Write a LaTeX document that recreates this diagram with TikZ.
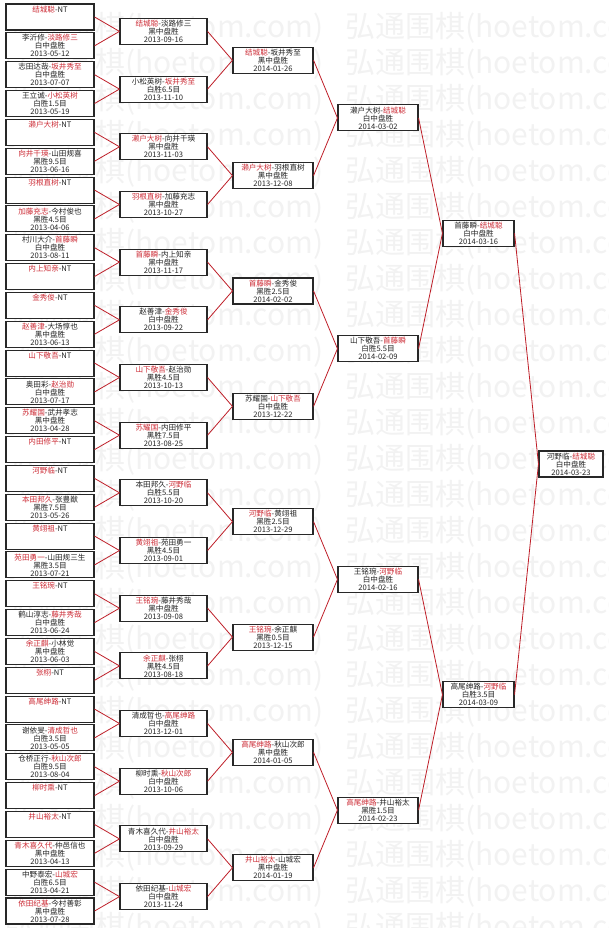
\documentclass[tikz,border=0pt]{standalone}
\usepackage{fontspec}
\usepackage{tikz}
\newfontfamily\cjk{Noto Sans CJK SC}
\definecolor{wincol}{RGB}{205,45,55}
\definecolor{linecol}{RGB}{190,30,40}
\definecolor{boxcol}{RGB}{40,40,40}
\definecolor{txtcol}{RGB}{35,35,35}
\newcommand\win[1]{\textcolor{wincol}{#1}}

\begin{document}
\begin{tikzpicture}[x=1pt, y=1pt,
    grow=left,
    game/.style={draw=boxcol, line width=1.1pt, fill=white, align=center,
      inner sep=1pt, minimum height=26pt, text=txtcol,
      font=\cjk\fontsize{7.6}{8}\selectfont},
    wmtext/.style={text=black!5, anchor=west, inner sep=0pt,
      font=\cjk\fontsize{30}{30}\selectfont},
    every child node/.style={game},
    edge from parent/.style={draw=linecol, line width=0.8pt},
    edge from parent path={(\tikzparentnode.west) -- (\tikzchildnode.east)},
    level 1/.style={level distance=92.5pt, sibling distance=461.4pt, minimum width=71pt},
    level 2/.style={level distance=100.5pt, sibling distance=230.7pt, minimum width=80pt},
    level 3/.style={level distance=105pt, sibling distance=115.4pt, minimum width=80pt},
    level 4/.style={level distance=109.5pt, sibling distance=57.7pt, minimum width=87pt},
    level 5/.style={level distance=113.5pt, sibling distance=28.84pt, minimum width=88pt}]
  \useasboundingbox (0,0) rectangle (608,-928);
  % watermark
  \foreach \r in {0,...,25}
    \foreach \c in {5,345}
      \node[wmtext] (wm-\c-\r) at (\c,-28-36*\r) {弘通围棋(hoetom.com)};
  % bracket
  \node[game, minimum width=64pt] (c6) at (571,-464) {河野临-\win{结城聪}\\白中盘胜\\2014-03-23}
    child { node (c5-1) {首藤瞬-\win{结城聪}\\白中盘胜\\2014-03-16}
      child { node (c4-1) {濑户大树-\win{结城聪}\\白中盘胜\\2014-03-02}
        child { node (c3-1) {\win{结城聪}-坂井秀至\\黑中盘胜\\2014-01-26}
          child { node (c2-1) {\win{结城聪}-淡路修三\\黑中盘胜\\2013-09-16}
            child { node (c1-1) {\win{结城聪}-NT\\~\\~}}
            child { node (c1-2) {李沂修-\win{淡路修三}\\白中盘胜\\2013-05-12}}}
          child { node (c2-2) {小松英树-\win{坂井秀至}\\白胜6.5目\\2013-11-10}
            child { node (c1-3) {志田达哉-\win{坂井秀至}\\白中盘胜\\2013-07-07}}
            child { node (c1-4) {王立诚-\win{小松英树}\\白胜1.5目\\2013-05-19}}}}
        child { node (c3-2) {\win{濑户大树}-羽根直树\\黑中盘胜\\2013-12-08}
          child { node (c2-3) {\win{濑户大树}-向井千瑛\\黑中盘胜\\2013-11-03}
            child { node (c1-5) {\win{濑户大树}-NT\\~\\~}}
            child { node (c1-6) {\win{向井千瑛}-山田规喜\\黑胜9.5目\\2013-06-16}}}
          child { node (c2-4) {\win{羽根直树}-加藤充志\\黑中盘胜\\2013-10-27}
            child { node (c1-7) {\win{羽根直树}-NT\\~\\~}}
            child { node (c1-8) {\win{加藤充志}-今村俊也\\黑胜4.5目\\2013-04-06}}}}}
      child { node (c4-2) {山下敬吾-\win{首藤瞬}\\白胜5.5目\\2014-02-09}
        child { node (c3-3) {\win{首藤瞬}-金秀俊\\黑胜2.5目\\2014-02-02}
          child { node (c2-5) {\win{首藤瞬}-内上知亲\\黑中盘胜\\2013-11-17}
            child { node (c1-9) {村川大介-\win{首藤瞬}\\白中盘胜\\2013-08-11}}
            child { node (c1-10) {\win{内上知亲}-NT\\~\\~}}}
          child { node (c2-6) {赵善津-\win{金秀俊}\\白中盘胜\\2013-09-22}
            child { node (c1-11) {\win{金秀俊}-NT\\~\\~}}
            child { node (c1-12) {\win{赵善津}-大场惇也\\黑中盘胜\\2013-06-13}}}}
        child { node (c3-4) {苏耀国-\win{山下敬吾}\\白中盘胜\\2013-12-22}
          child { node (c2-7) {\win{山下敬吾}-赵治勋\\黑胜4.5目\\2013-10-13}
            child { node (c1-13) {\win{山下敬吾}-NT\\~\\~}}
            child { node (c1-14) {奥田彩-\win{赵治勋}\\白中盘胜\\2013-07-17}}}
          child { node (c2-8) {\win{苏耀国}-内田修平\\黑胜7.5目\\2013-08-25}
            child { node (c1-15) {\win{苏耀国}-武井孝志\\黑中盘胜\\2013-04-28}}
            child { node (c1-16) {\win{内田修平}-NT\\~\\~}}}}}}
    child { node (c5-2) {高尾绅路-\win{河野临}\\白胜3.5目\\2014-03-09}
      child { node (c4-3) {王铭琬-\win{河野临}\\白中盘胜\\2014-02-16}
        child { node (c3-5) {\win{河野临}-黄翊祖\\黑胜2.5目\\2013-12-29}
          child { node (c2-9) {本田邦久-\win{河野临}\\白胜5.5目\\2013-10-20}
            child { node (c1-17) {\win{河野临}-NT\\~\\~}}
            child { node (c1-18) {\win{本田邦久}-张豊猷\\黑胜7.5目\\2013-05-26}}}
          child { node (c2-10) {\win{黄翊祖}-苑田勇一\\黑胜4.5目\\2013-09-01}
            child { node (c1-19) {\win{黄翊祖}-NT\\~\\~}}
            child { node (c1-20) {\win{苑田勇一}-山田规三生\\黑胜3.5目\\2013-07-21}}}}
        child { node (c3-6) {\win{王铭琬}-余正麒\\黑胜0.5目\\2013-12-15}
          child { node (c2-11) {\win{王铭琬}-藤井秀哉\\黑中盘胜\\2013-09-08}
            child { node (c1-21) {\win{王铭琬}-NT\\~\\~}}
            child { node (c1-22) {鹤山淳志-\win{藤井秀哉}\\白中盘胜\\2013-06-24}}}
          child { node (c2-12) {\win{余正麒}-张栩\\黑胜4.5目\\2013-08-18}
            child { node (c1-23) {\win{余正麒}-小林觉\\黑中盘胜\\2013-06-03}}
            child { node (c1-24) {\win{张栩}-NT\\~\\~}}}}}
      child { node (c4-4) {\win{高尾绅路}-井山裕太\\黑胜1.5目\\2014-02-23}
        child { node (c3-7) {\win{高尾绅路}-秋山次郎\\黑中盘胜\\2014-01-05}
          child { node (c2-13) {清成哲也-\win{高尾绅路}\\白中盘胜\\2013-12-01}
            child { node (c1-25) {\win{高尾绅路}-NT\\~\\~}}
            child { node (c1-26) {谢依旻-\win{清成哲也}\\白胜3.5目\\2013-05-05}}}
          child { node (c2-14) {柳时熏-\win{秋山次郎}\\白中盘胜\\2013-10-06}
            child { node (c1-27) {仓桥正行-\win{秋山次郎}\\白胜9.5目\\2013-08-04}}
            child { node (c1-28) {\win{柳时熏}-NT\\~\\~}}}}
        child { node (c3-8) {\win{井山裕太}-山城宏\\黑中盘胜\\2014-01-19}
          child { node (c2-15) {青木喜久代-\win{井山裕太}\\白中盘胜\\2013-09-29}
            child { node (c1-29) {\win{井山裕太}-NT\\~\\~}}
            child { node (c1-30) {\win{青木喜久代}-仲邑信也\\黑中盘胜\\2013-04-13}}}
          child { node (c2-16) {依田纪基-\win{山城宏}\\白中盘胜\\2013-11-24}
            child { node (c1-31) {中野泰宏-\win{山城宏}\\白胜6.5目\\2013-04-21}}
            child { node (c1-32) {\win{依田纪基}-今村善彰\\黑中盘胜\\2013-07-28}}}}}};
\end{tikzpicture}
\end{document}
